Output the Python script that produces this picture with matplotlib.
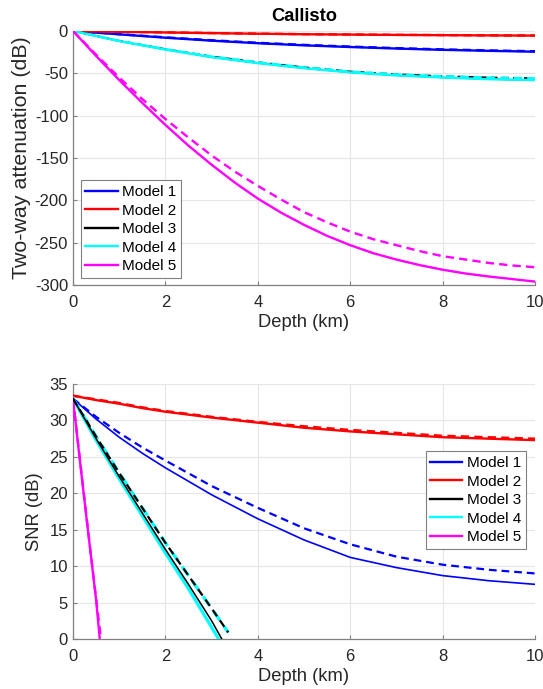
#python 3
# Callisto: two-way attenuation and SNR vs depth

import numpy as np
import matplotlib.pyplot as plt

plt.rcParams['font.family'] = ['Liberation Sans', 'DejaVu Sans']
plt.rcParams['axes.unicode_minus'] = False

###########################################################
#     data (depth in km, values in dB)
###########################################################
labels = ['Model 1', 'Model 2', 'Model 3', 'Model 4', 'Model 5']
colors = ['#0000ff', '#ff0000', '#000000', '#00ffff', '#ff00ff']

# attenuation, solid and dashed
d_att = [0, 1, 2, 3, 4, 5, 6, 7, 8, 9, 10]
att1 = [0, -4, -8, -11.5, -14.5, -17, -19, -20.8, -22.3, -23.5, -24.5]
att1_d = [0, -3.8, -7.6, -11, -14, -16.5, -18.5, -20.3, -21.8, -23, -24]
att2 = [0, -1, -1.8, -2.6, -3.3, -3.9, -4.3, -4.7, -5, -5.3, -5.5]
att2_d = [0, -0.9, -1.7, -2.5, -3.2, -3.8, -4.2, -4.6, -4.9, -5.2, -5.4]
att3 = [0, -12, -22, -31, -38, -44, -49, -52.5, -55, -57, -58]
att3_d = [0, -11.7, -21.5, -30.2, -37, -43, -48, -51.3, -53.5, -55, -56]
att4 = att3
att4_d = att3_d

d_att5 = [0, 0.5, 1, 1.5, 2, 2.5, 3, 3.5, 4, 4.5, 5, 5.5, 6, 6.5, 7, 7.5, 8, 8.5, 9, 9.5, 10]
att5 = [0, -29.5, -58, -85, -111, -135.5, -158, -179, -198, -214.5, -229, -242, -253,
        -262.5, -270, -276.5, -282, -286.5, -290, -293, -296]
att5_d = [0, -28, -55, -80.5, -104, -126, -147, -166, -183, -199, -214, -226, -237,
          -246, -253, -260, -266, -270, -274, -277, -279]

# SNR
d_snr = [0, 0.5, 1, 1.5, 2, 3, 4, 5, 6, 7, 8, 9, 10]
snr1 = [33.0, 30.2, 27.7, 25.5, 23.5, 19.8, 16.5, 13.6, 11.2, 9.8, 8.7, 8.0, 7.5]
snr1_d = [33.0, 30.5, 28.3, 26.3, 24.5, 21.0, 18.0, 15.2, 13.0, 11.3, 10.2, 9.5, 9.0]
snr2 = [33.4, 32.8, 32.3, 31.7, 31.2, 30.4, 29.7, 29.0, 28.5, 28.1, 27.7, 27.5, 27.3]
snr2_d = [33.4, 32.9, 32.4, 31.8, 31.3, 30.5, 29.8, 29.2, 28.7, 28.3, 27.9, 27.7, 27.5]

d_snr3 = [0, 0.5, 1, 1.5, 2, 2.5, 3, 3.22]
snr3 = [33, 27.5, 22.3, 17.3, 12.3, 7.5, 2.5, 0]
d_snr3_d = [0, 0.5, 1, 1.5, 2, 2.5, 3, 3.36]
snr3_d = [33, 27.8, 22.8, 18.0, 13.2, 8.7, 4.2, 0.9]
d_snr4 = [0, 0.5, 1, 1.5, 2, 2.5, 3, 3.15]
snr4 = [33, 27.3, 22.0, 16.9, 11.8, 6.9, 1.6, 0]
d_snr4_d = d_snr3_d
snr4_d = snr3_d

d_snr5 = [0, 0.1, 0.2, 0.3, 0.4, 0.5, 0.58]
snr5 = [33, 27.3, 21.7, 16.2, 10.8, 5.4, 0]
d_snr5_d = [0, 0.2, 0.4, 0.6]
snr5_d = [33, 21.9, 10.9, 0.3]

###########################################################
#                      plotting
###########################################################
fig = plt.figure(figsize=(5.43, 6.89), dpi=100)
ax1 = fig.add_axes([0.1344, 0.5864, 0.851, 0.3687])
ax2 = fig.add_axes([0.1344, 0.0726, 0.851, 0.370])

lw = 1.7
dash = (0, (3.5, 2.2))
jn = dict(solid_joinstyle='round', dash_joinstyle='round')

top = [(d_att, att1, att1_d, lw), (d_att, att2, att2_d, lw), (d_att, att3, att3_d, 1.0),
       (d_att, att4, att4_d, lw), (d_att5, att5, att5_d, lw)]
for i, (d, s, sd, w) in enumerate(top):
    z = 2.5 if i == 2 else 3
    ax1.plot(d, s, color=colors[i], lw=w, label=labels[i], zorder=z, **jn)
    ax1.plot(d, sd, color=colors[i], lw=max(w, 1.4), ls=dash, zorder=z, **jn)

bot = [(d_snr, snr1, d_snr, snr1_d, 1.2), (d_snr, snr2, d_snr, snr2_d, lw),
       (d_snr3, snr3, d_snr3_d, snr3_d, 1.1), (d_snr4, snr4, d_snr4_d, snr4_d, 2.3),
       (d_snr5, snr5, d_snr5_d, snr5_d, lw)]
for i, (d, s, dd, sd, w) in enumerate(bot):
    z = 5 if i == 2 else 3
    ax2.plot(d, s, color=colors[i], lw=w, label=labels[i], zorder=z, **jn)
    ax2.plot(dd, sd, color=colors[i], lw=max(w, 1.6), ls=dash, zorder=z, **jn)

def style(ax):
    ax.set_xlim(0, 10)
    ax.set_xticks([0, 2, 4, 6, 8, 10])
    ax.grid(True, color='#e6e6e6', lw=0.8)
    ax.set_axisbelow(True)
    for s in ['top', 'right']:
        ax.spines[s].set_visible(False)
    for s in ['left', 'bottom']:
        ax.spines[s].set_color('#808080')
        ax.spines[s].set_linewidth(0.9)
    ax.tick_params(direction='in', length=3, color='#808080', labelsize=12,
                   labelcolor='#262626')
    ax.tick_params(axis='x', pad=7)
    ax.tick_params(axis='y', pad=3.5)
    ax.set_xlabel('Depth (km)', fontsize=13.2, color='#262626', labelpad=3)

style(ax1)
ax1.set_ylim(-300, 0)
ax1.set_yticks(np.arange(-300, 1, 50))
ax1.set_ylabel('Two-way attenuation (dB)', fontsize=15.4, color='#262626', labelpad=3)
ax1.set_title('Callisto', fontsize=13.2, fontweight='bold', pad=7)

style(ax2)
ax2.set_ylim(0, 35)
ax2.set_yticks(np.arange(0, 36, 5))
ax2.set_ylabel('SNR (dB)', fontsize=13.2, color='#262626', labelpad=5)

leg_kw = dict(fontsize=11, fancybox=False, framealpha=1, edgecolor='#808080',
              handlelength=2.1, handletextpad=0.3, borderpad=0.3, labelspacing=0.3,
              borderaxespad=0)
l1 = ax1.legend(loc='lower left', bbox_to_anchor=(0.017, 0.028), **leg_kw)
l2 = ax2.legend(loc='lower right', bbox_to_anchor=(0.98, 0.353), **leg_kw)
for l in (l1, l2):
    l.get_frame().set_linewidth(0.8)
    for h in l.get_lines():
        h.set_linewidth(1.7)

fig.savefig('out.png', dpi=100)
